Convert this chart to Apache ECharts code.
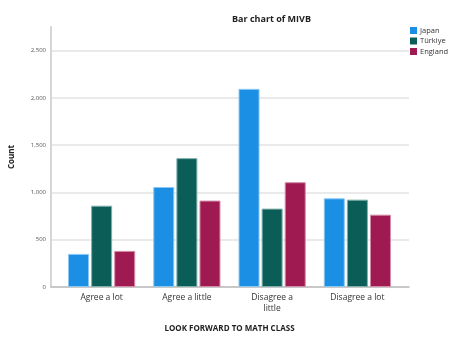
<!DOCTYPE html>
<html>
<head>
<meta charset="utf-8">
<script src="https://cdn.jsdelivr.net/npm/echarts@6/dist/echarts.min.js"></script>
<style>
  html, body { margin: 0; padding: 0; background: #fff; }
  #chart { width: 454px; height: 341px; }
</style>
</head>
<body>
<div id="chart"></div>
<script>
// Responses to "Look forward to math class", counts by country
const categories = ['Agree a lot', 'Agree a little', 'Disagree a little', 'Disagree a lot'];
const japan   = [350, 1058, 2096, 938];
const turkiye = [860, 1363, 829, 924];
const england = [382, 914, 1108, 765];
const yTicks = [0, 500, 1000, 1500, 2000, 2500];

const FONT = '"Open Sans", "DejaVu Sans", sans-serif';
const Y_MAX = 2750;

const chart = echarts.init(document.getElementById('chart'), null, { renderer: 'canvas' });

function bar(name, data, color, edge) {
  return {
    name: name,
    type: 'bar',
    xAxisIndex: 1,
    yAxisIndex: 1,
    data: data,
    barWidth: 21,
    barGap: '10%',
    itemStyle: { color: color, borderColor: edge, borderWidth: 1 }
  };
}

chart.setOption({
  animation: false,
  textStyle: { fontFamily: FONT },
  title: {
    text: 'Bar chart of MIVB',
    left: 227,
    top: 10,
    textStyle: { fontFamily: FONT, fontSize: 9, fontWeight: 'bold', color: '#222' }
  },
  legend: {
    orient: 'vertical',
    left: 410,
    top: 26.5,
    padding: 0,
    itemWidth: 7,
    itemHeight: 7,
    itemGap: 2.5,
    icon: 'rect',
    itemStyle: { borderWidth: 0 },
    textStyle: { fontFamily: FONT, fontSize: 7.5, color: '#333', padding: [0, 0, 0, -2] },
    data: ['Japan', 'Türkiye', 'England']
  },
  grid: [
    { left: 50, right: 45, top: 27, bottom: 54 },
    { left: 59, right: 54, top: 27, bottom: 54 }
  ],
  xAxis: [
    {
      gridIndex: 0,
      type: 'value',
      min: 0, max: 1,
      axisLine: { show: true, lineStyle: { color: '#bdbdbd', width: 1.5 } },
      axisTick: { show: false },
      axisLabel: { show: false },
      splitLine: { show: false }
    },
    {
      gridIndex: 1,
      type: 'category',
      data: categories,
      axisLine: { show: false },
      axisTick: { show: false },
      axisLabel: {
        fontFamily: FONT,
        fontSize: 8.5,
        color: '#333',
        margin: 5,
        lineHeight: 11,
        formatter: v => v === 'Disagree a little' ? 'Disagree a\nlittle' : v
      },
      name: 'LOOK FORWARD TO MATH CLASS',
      nameLocation: 'middle',
      nameGap: 38,
      nameTextStyle: { fontFamily: FONT, fontSize: 8, fontWeight: 'bold', color: '#222' }
    }
  ],
  yAxis: [
    {
      gridIndex: 0,
      type: 'value',
      min: yTicks[0],
      max: Y_MAX,
      interval: yTicks[1] - yTicks[0],
      axisLine: { show: true, lineStyle: { color: '#d6d6d6', width: 2 } },
      axisTick: { show: false },
      axisLabel: {
        fontFamily: FONT,
        fontSize: 6,
        color: '#555',
        margin: 5,
        showMaxLabel: false,
        formatter: v => yTicks.includes(v) ? v.toLocaleString('en-US') : ''
      },
      splitLine: { show: true, showMaxLine: false, lineStyle: { color: '#e3e3e3', width: 1.5 } },
      name: 'Count',
      nameLocation: 'middle',
      nameGap: 35,
      nameTextStyle: { fontFamily: FONT, fontSize: 8, fontWeight: 'bold', color: '#222' }
    },
    {
      gridIndex: 1,
      type: 'value',
      min: yTicks[0],
      max: Y_MAX,
      show: false
    }
  ],
  series: [
    bar('Japan', japan, '#1a8fe3', '#8cc8f2'),
    bar('Türkiye', turkiye, '#0b5e58', '#7fb0ab'),
    bar('England', england, '#9e1a50', '#d48aa8')
  ]
});
</script>
</body>
</html>
